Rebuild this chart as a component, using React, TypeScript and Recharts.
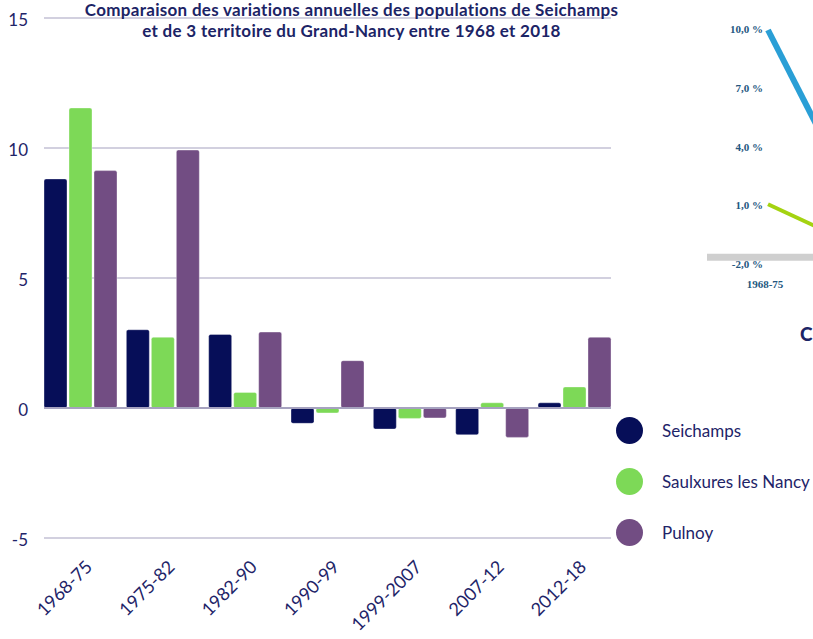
import React from "react";
import {
  BarChart,
  Bar,
  XAxis,
  YAxis,
  CartesianGrid,
  LineChart,
  Line,
  ReferenceLine,
} from "recharts";

const periods = ["1968-75", "1975-82", "1982-90", "1990-99", "1999-2007", "2007-12", "2012-18"];
const seichamps = [8.81, 3.01, 2.83, -0.59, -0.81, -1.03, 0.2];
const saulxures = [11.54, 2.72, 0.6, -0.19, -0.4, 0.2, 0.81];
const pulnoy = [9.13, 9.92, 2.92, 1.82, -0.38, -1.13, 2.72];
const yTicks = [-5, 0, 5, 10, 15];

// bout du graphique 3D collé à droite (coupé par le bord)
const fragPeriods = ["1968-75", "1975-82"];
const fragBlue = [10.0, 2.8];
const fragGreen = [1.1, -0.6];
const fragTicks = [-2, 1, 4, 7, 10];

const NAVY = "#060e58";
const GREEN = "#7dd957";
const PURPLE = "#724d83";
const TEXT = "#1e2468";
const GRID = "#a6a2bf";
const FONT = "Lato, 'Noto Sans', sans-serif";

const series = [
  { key: "seichamps", name: "Seichamps", color: NAVY },
  { key: "saulxures", name: "Saulxures les Nancy", color: GREEN },
  { key: "pulnoy", name: "Pulnoy", color: PURPLE },
];

const rows = periods.map((p, i) => ({
  period: p,
  seichamps: seichamps[i],
  saulxures: saulxures[i],
  pulnoy: pulnoy[i],
}));

const fragRows = fragPeriods.map((p, i) => ({ period: p, blue: fragBlue[i], green: fragGreen[i] }));

function XTick({ x, y, payload }: any) {
  const ax = x + 13;
  const ay = y + 30;
  return (
    <text
      x={ax}
      y={ay}
      transform={`rotate(-45 ${ax} ${ay})`}
      textAnchor="end"
      fill={TEXT}
      fontSize={18}
      fontFamily={FONT}
    >
      {payload.value}
    </text>
  );
}

function FragYTick({ x, y, payload }: any) {
  return (
    <text
      x={x + 56}
      y={y + 3}
      textAnchor="end"
      fill="#24577f"
      fontSize={11}
      fontWeight={700}
      fontFamily="'Liberation Serif', serif"
    >
      {payload.value.toFixed(1).replace(".", ",")} %
    </text>
  );
}

export default function App() {
  return (
    <div style={{ position: "absolute", left: 0, top: 0, width: 813, height: 639, overflow: "hidden", background: "#fff" }}>
      <BarChart
        width={813}
        height={639}
        data={rows}
        margin={{ top: 18, right: 202, left: 0, bottom: 41 }}
        barCategoryGap={4.67}
        barGap={2}
      >
        <CartesianGrid vertical={false} stroke={GRID} strokeWidth={1.2} />
        <XAxis
          dataKey="period"
          axisLine={false}
          tickLine={false}
          tickSize={0}
          tickMargin={0}
          interval={0}
          height={60}
          padding={{ left: -4.67, right: -4.67 }}
          tick={<XTick />}
        />
        <YAxis
          domain={[-5, 15]}
          ticks={yTicks}
          width={44}
          axisLine={false}
          tickLine={false}
          tickSize={0}
          tickMargin={16}
          tick={{ fill: TEXT, fontSize: 17, fontFamily: FONT, dy: 2 }}
        />
        <ReferenceLine y={0} stroke={GRID} strokeWidth={2} />
        {series.map((s) => (
          <Bar
            key={s.key}
            dataKey={s.key}
            name={s.name}
            fill={s.color}
            stroke="#ffffff"
            strokeOpacity={0.35}
            radius={2}
            isAnimationActive={false}
          />
        ))}
      </BarChart>

      {/* légende */}
      <div style={{ position: "absolute", left: 616, top: 417, display: "flex", flexDirection: "column", gap: 24 }}>
        {series.map((s) => (
          <div key={s.key} style={{ display: "flex", alignItems: "center", height: 27 }}>
            <div style={{ width: 27, height: 27, borderRadius: "50%", background: s.color, flexShrink: 0 }} />
            <span style={{ marginLeft: 19, fontSize: 17, color: TEXT, fontFamily: FONT, whiteSpace: "nowrap" }}>
              {s.name}
            </span>
          </div>
        ))}
      </div>

      <div
        style={{
          position: "absolute",
          left: 0,
          top: -1,
          width: 703,
          textAlign: "center",
          fontFamily: FONT,
          fontWeight: 700,
          fontSize: 17,
          letterSpacing: 0.3,
          lineHeight: "21px",
          color: "#1c2466",
        }}
      >
        Comparaison des variations annuelles des populations de Seichamps
        <br />
        et de 3 territoire du Grand-Nancy entre 1968 et 2018
      </div>

      <div style={{ position: "absolute", left: 700, top: 0, width: 113, height: 300, overflow: "hidden" }}>
        <LineChart width={140} height={300} data={fragRows} margin={{ top: 30, right: 0, left: -48, bottom: 0 }}>
          <XAxis
            dataKey="period"
            ticks={["1968-75"]}
            axisLine={false}
            tickLine={false}
            tickSize={0}
            tickMargin={15}
            height={35}
            padding={{ left: 61, right: 0 }}
            tick={{ fill: "#24577f", fontSize: 11, fontWeight: 700, fontFamily: "'Liberation Serif', serif", dx: -3 }}
          />
          <YAxis
            domain={[-2, 10]}
            ticks={fragTicks}
            width={55}
            axisLine={false}
            tickLine={false}
            tickSize={0}
            tickMargin={0}
            tick={<FragYTick />}
          />
          <ReferenceLine y={-1.6} stroke="#cfcfcf" strokeWidth={7} />
          <Line dataKey="blue" stroke="#2a9fd6" strokeWidth={6} dot={false} isAnimationActive={false} />
          <Line dataKey="green" stroke="#a4d311" strokeWidth={4} dot={false} isAnimationActive={false} />
        </LineChart>
      </div>

      <div
        style={{
          position: "absolute",
          left: 800,
          top: 322,
          fontFamily: FONT,
          fontWeight: 900,
          fontSize: 19,
          color: "#1c2466",
          whiteSpace: "nowrap",
        }}
      >
        C
      </div>
    </div>
  );
}
